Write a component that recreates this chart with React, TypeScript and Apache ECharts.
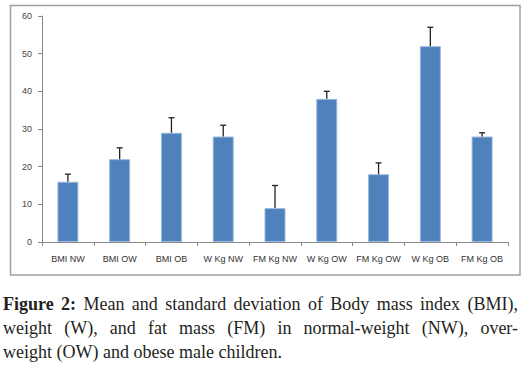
import React, { useEffect, useRef } from "react";
import * as echarts from "echarts";

const categories = ["BMI NW", "BMI OW", "BMI OB", "W Kg NW", "FM Kg NW", "W Kg OW", "FM Kg OW", "W Kg OB", "FM Kg OB"];
const means = [16, 22, 29, 28, 9, 38, 18, 52, 28];
const sds = [2, 3, 4, 3, 6, 2, 3, 5, 1];
const yTicks = { min: 0, max: 60, interval: 10 };

const captionLines: { words: string[]; boldCount: number; justify: boolean }[] = [
  { words: "Figure 2: Mean and standard deviation of Body mass index (BMI),".split(" "), boldCount: 2, justify: true },
  { words: "weight (W), and fat mass (FM) in normal-weight (NW), over-".split(" "), boldCount: 0, justify: true },
  { words: "weight (OW) and obese male children.".split(" "), boldCount: 0, justify: false },
];

const FONT_FAMILY = "'Liberation Serif', 'DejaVu Serif', serif";
const FONT_SIZE = 18;

function buildCaption(): any[] {
  const canvas = document.createElement("canvas");
  const ctx = canvas.getContext("2d")!;
  const left = 3;
  const right = 518;
  const lineY = [303.5, 327.7, 351.9];
  const els: any[] = [];
  captionLines.forEach((line, li) => {
    const widths = line.words.map((w, i) => {
      ctx.font = `${i < line.boldCount ? "bold " : ""}${FONT_SIZE}px ${FONT_FAMILY}`;
      return ctx.measureText(w).width;
    });
    ctx.font = `${FONT_SIZE}px ${FONT_FAMILY}`;
    const spaceW = ctx.measureText(" ").width;
    const total = widths.reduce((a, b) => a + b, 0);
    const gap = line.justify ? (right - left - total) / (line.words.length - 1) : spaceW;
    let x = left;
    line.words.forEach((w, i) => {
      els.push({
        type: "text",
        x,
        y: lineY[li],
        silent: true,
        style: {
          text: w,
          font: `${i < line.boldCount ? "bold " : ""}${FONT_SIZE}px ${FONT_FAMILY}`,
          fill: "#231f20",
          align: "left",
          verticalAlign: "middle",
        },
      });
      x += widths[i] + gap;
    });
  });
  return els;
}

export default function App() {
  const ref = useRef<HTMLDivElement>(null);
  useEffect(() => {
    document.body.style.margin = "0";
    const chart = echarts.init(ref.current!, undefined, { renderer: "svg" });
    const errData = means.map((m, i) => [i, m, m + sds[i]]);
    chart.setOption({
      animation: false,
      backgroundColor: "#ffffff",
      grid: { left: 42, right: 22, top: 16, bottom: 123 },
      xAxis: {
        type: "category",
        data: categories,
        axisLine: { lineStyle: { color: "#8a8a8a", width: 1 } },
        axisTick: { show: true, alignWithLabel: false, length: 4, lineStyle: { color: "#8a8a8a" } },
        axisLabel: { color: "#333", fontSize: 9, fontFamily: "'Liberation Sans', sans-serif", margin: 12, interval: 0 },
      },
      yAxis: {
        type: "value",
        min: yTicks.min,
        max: yTicks.max,
        interval: yTicks.interval,
        axisLine: { show: true, lineStyle: { color: "#8a8a8a", width: 1 } },
        axisTick: { show: true, length: 4, lineStyle: { color: "#8a8a8a" } },
        splitLine: { show: false },
        axisLabel: { color: "#444", fontSize: 9, fontFamily: "'Liberation Sans', sans-serif", margin: 10 },
      },
      series: [
        {
          type: "bar",
          data: means,
          barWidth: 21,
          itemStyle: { color: "#4f81bd", borderColor: "#9ab9de", borderWidth: 1 },
          z: 2,
        },
        {
          type: "custom",
          data: errData,
          z: 3,
          renderItem: (params: any, api: any) => {
            const x = api.value(0);
            const top = api.coord([x, api.value(2)]);
            const base = api.coord([x, api.value(1)]);
            const style = { stroke: "#222", lineWidth: 1.3 };
            return {
              type: "group",
              children: [
                { type: "line", shape: { x1: top[0], y1: top[1], x2: base[0], y2: base[1] }, style },
                { type: "line", shape: { x1: top[0] - 3, y1: top[1], x2: top[0] + 3, y2: top[1] }, style },
              ],
            };
          },
        },
      ],
      graphic: [
        {
          type: "rect",
          shape: { x: 10.5, y: 5.5, width: 509.5, height: 269.5 },
          style: { fill: "none", stroke: "#a0a0a0", lineWidth: 1.5 },
          silent: true,
        },
        ...buildCaption(),
      ],
    });
    return () => chart.dispose();
  }, []);
  return <div ref={ref} style={{ width: 530, height: 365 }} />;
}
